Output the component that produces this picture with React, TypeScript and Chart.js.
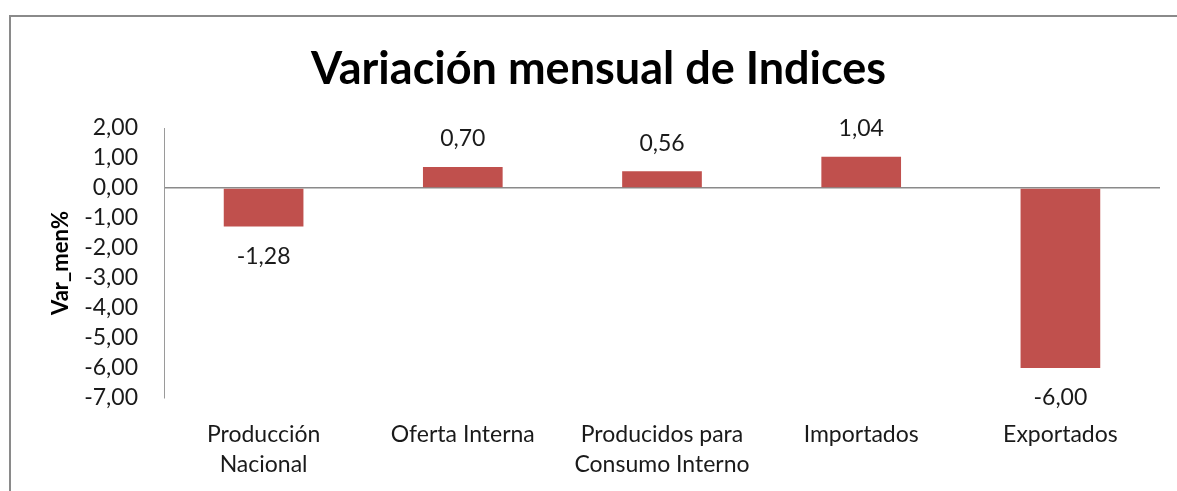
import React, { useEffect, useRef } from "react";
import { Chart, registerables } from "chart.js";

Chart.register(...registerables);

const categories: string[][] = [
  ["Producción", "Nacional"],
  ["Oferta Interna"],
  ["Producidos para", "Consumo Interno"],
  ["Importados"],
  ["Exportados"],
];
const varMen: number[] = [-1.28, 0.7, 0.56, 1.04, -6.0];
const yMin = -7;
const yMax = 2;
const yStep = 1;
const titleText = "Variación mensual de Indices";
const yTitle = "Var_men%";

const fmt = (v: number) => v.toFixed(2).replace(".", ",");

const FONT = "Lato, 'Open Sans', sans-serif";

export default function App() {
  const ref = useRef<HTMLCanvasElement | null>(null);

  useEffect(() => {
    const canvas = ref.current;
    if (!canvas) return;

    const framePlugin = {
      id: "frame",
      beforeDraw(chart: any) {
        const ctx = chart.ctx;
        ctx.save();
        ctx.fillStyle = "#ffffff";
        ctx.fillRect(0, 0, chart.width, chart.height);
        ctx.strokeStyle = "#8a8a8a";
        ctx.lineWidth = 2;
        ctx.strokeRect(10, 16, chart.width + 50, chart.height + 50);
        ctx.restore();
      },
    };

    const labelPlugin = {
      id: "valueLabels",
      afterDatasetsDraw(chart: any) {
        const ctx = chart.ctx;
        const meta = chart.getDatasetMeta(0);
        const data = chart.data.datasets[0].data as number[];
        ctx.save();
        ctx.font = `23px ${FONT}`;
        ctx.fillStyle = "#1a1a1a";
        ctx.textAlign = "center";
        ctx.textBaseline = "middle";
        meta.data.forEach((bar: any, i: number) => {
          const v = data[i];
          const { x, y } = bar.getProps(["x", "y"], true);
          const ly = v >= 0 ? y - 28 : y + 30;
          ctx.fillText(fmt(v), x, ly);
        });
        ctx.restore();
      },
    };

    const chart = new Chart(canvas, {
      type: "bar",
      data: {
        labels: categories,
        datasets: [
          {
            data: varMen,
            backgroundColor: "#C0504D",
            borderWidth: 0,
            barPercentage: 0.4,
            categoryPercentage: 1,
          },
        ],
      },
      options: {
        animation: false,
        responsive: false,
        maintainAspectRatio: false,
        layout: { padding: { left: 37, right: 17, top: 0, bottom: 0 } },
        plugins: {
          legend: { display: false },
          tooltip: { enabled: false },
          title: {
            display: true,
            text: titleText,
            color: "#000000",
            font: { family: FONT, size: 45, weight: "bold", lineHeight: 1.2 },
            padding: { top: 42, bottom: 32 },
          },
        },
        scales: {
          x: {
            grid: { display: false, drawTicks: false },
            border: { display: false },
            ticks: {
              color: "#1a1a1a",
              font: { family: FONT, size: 23, lineHeight: 1.3 },
              padding: 22,
              maxRotation: 0,
              autoSkip: false,
            },
            afterFit: (s: any) => {
              s.height = 93;
            },
          },
          y: {
            min: yMin,
            max: yMax,
            grid: {
              drawTicks: false,
              color: (c: any) => (c.tick && c.tick.value === 0 ? "#8a8a8a" : "rgba(0,0,0,0)"),
              lineWidth: 1.5,
            },
            border: { display: true, color: "#9a9a9a", width: 1 },
            ticks: {
              stepSize: yStep,
              autoSkip: false,
              color: "#1a1a1a",
              font: { family: FONT, size: 23 },
              padding: 26,
              callback: (v: any) => fmt(Number(v)),
            },
            title: {
              display: true,
              text: yTitle,
              color: "#000000",
              font: { family: FONT, size: 22, weight: "bold", lineHeight: 1.2 },
              padding: { top: 11, bottom: 0 },
            },
            afterFit: (s: any) => {
              s.width = 127;
            },
          },
        },
      },
      plugins: [framePlugin, labelPlugin],
    });

    return () => chart.destroy();
  }, []);

  return (
    <div style={{ position: "fixed", left: 0, top: 0, width: 1177, height: 491, background: "#fff" }}>
      <canvas ref={ref} width={1177} height={491} style={{ display: "block", width: 1177, height: 491 }} />
    </div>
  );
}
